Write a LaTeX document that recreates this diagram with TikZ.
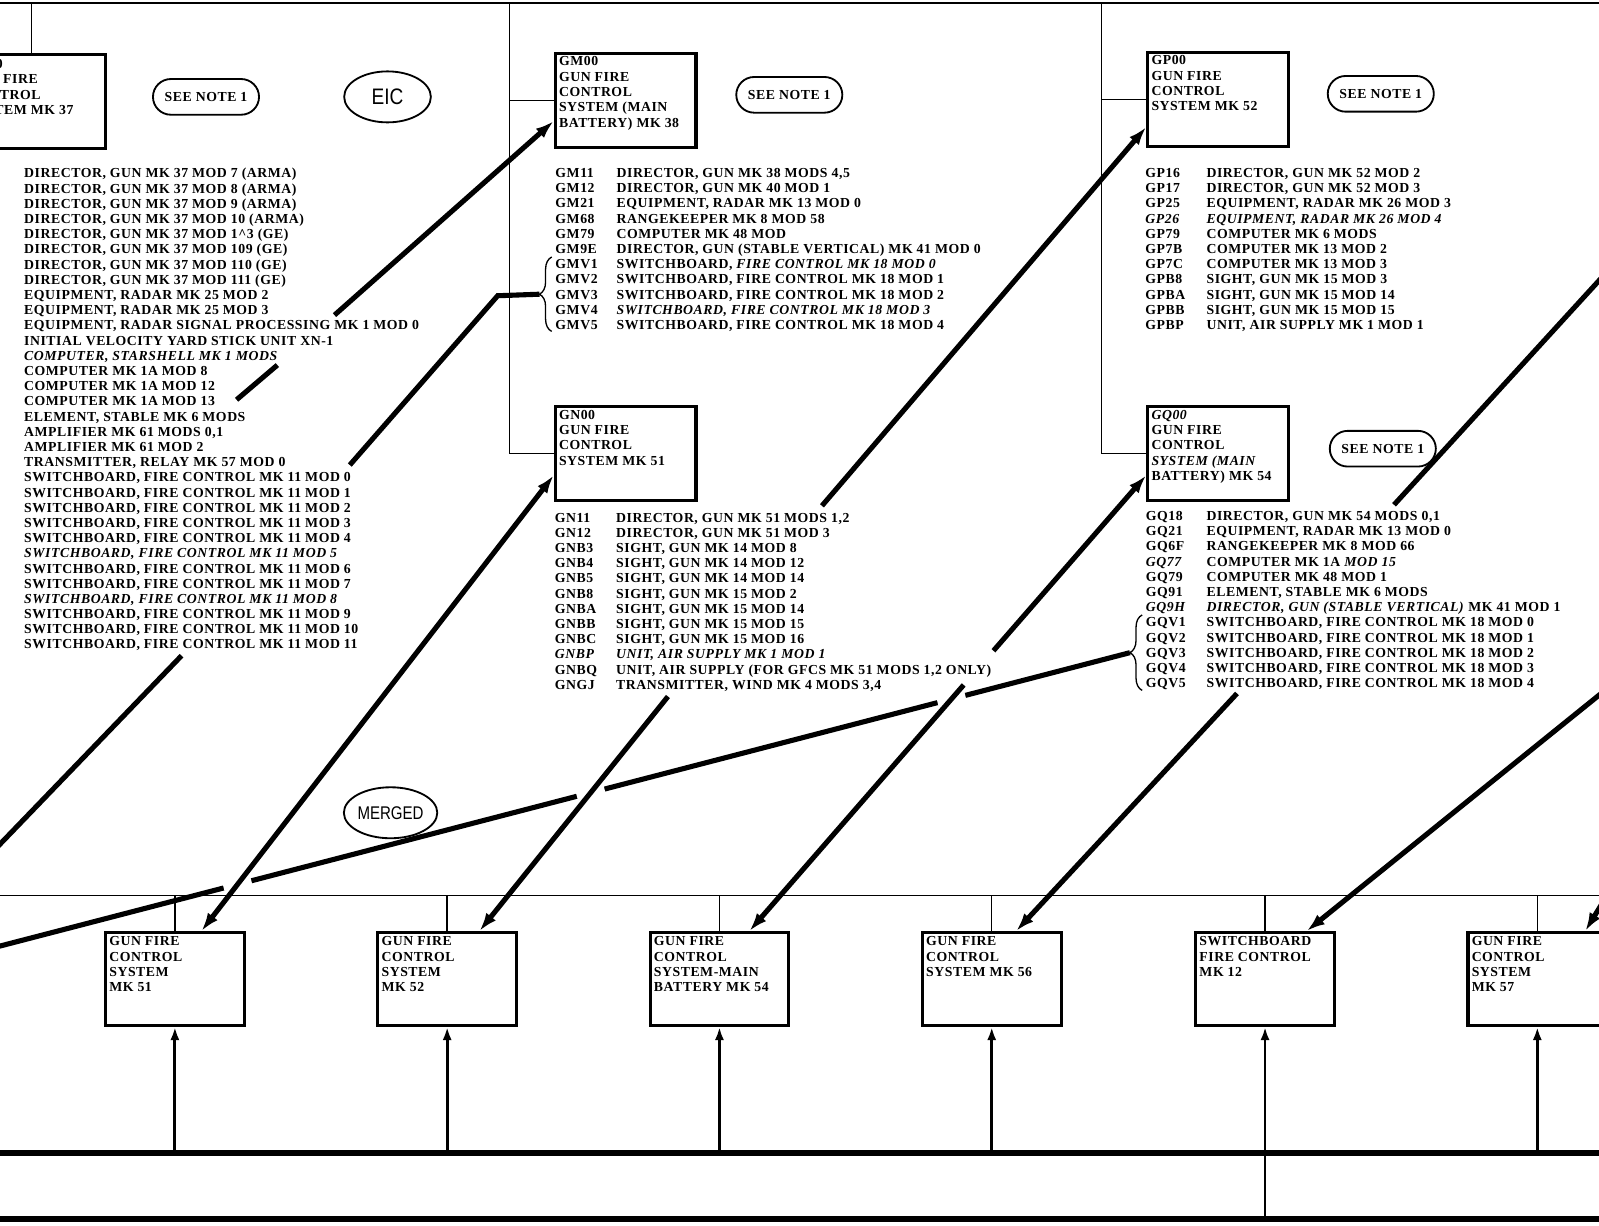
\documentclass[tikz,border=0pt]{standalone}
\usepackage{fontspec}
\usepackage{graphicx}
\setmainfont{Liberation Serif}[LetterSpace=4]
\setsansfont{Liberation Sans}
\usetikzlibrary{positioning,arrows.meta,shapes.misc,shapes.geometric,decorations.pathreplacing,calc,intersections}

\tikzset{
  txt/.style={inner sep=0pt, font=\bfseries\fontsize{13.5}{14.9}\selectfont},
  boxtxt/.style={inner sep=0pt, align=left, font=\bfseries\fontsize{13.5}{15}\selectfont},
  sysbox/.style={draw, line width=3pt, minimum width=138pt, minimum height=92pt, inner sep=0pt, anchor=north west},
  unitbox/.style={sysbox, minimum width=136pt, minimum height=91pt},
  notebox/.style={draw, rounded rectangle, line width=1.8pt, minimum width=104pt, minimum height=35pt, inner sep=0pt, font=\bfseries\fontsize{13.5}{15}\selectfont},
  tagoval/.style={draw, ellipse, line width=1.8pt, inner sep=0pt, minimum width=86pt, minimum height=50pt},
  thinlink/.style={line width=1.4pt},
  heavyline/.style={line width=5pt},
  feedarrow/.style={line width=5pt, -{Latex[length=18pt,width=12pt]}},
  backarrow/.style={line width=5pt, {Latex[length=18pt,width=12pt]}-},
  twoarrow/.style={line width=5pt, {Latex[length=18pt,width=12pt]}-{Latex[length=18pt,width=12pt]}},
  riser/.style={line width=2.8pt, -{Latex[length=13pt,width=9pt]}},
  groupbrace/.style={line width=1.3pt, decorate, decoration={brace, amplitude=12pt}},
}

\begin{document}
\begin{tikzpicture}[x=1pt, y=-1pt]
\useasboundingbox (0,0) rectangle (1568,1202);
\fill[white] (0,0) rectangle (1568,1202);
\clip (0,0) rectangle (1568,1202);

% upper systems
\node[sysbox] (gl00) at (-36,52) {};
\node[boxtxt, below right=6pt and 4pt of gl00.north west] (gl00txt) {GL00\\GUN FIRE\\CONTROL\\SYSTEM MK 37};
\node[sysbox] (gm00) at (543,51) {};
\node[boxtxt, below right=4.5pt and 5pt of gm00.north west] (gm00txt) {GM00\\GUN FIRE\\CONTROL\\SYSTEM (MAIN\\BATTERY) MK 38};
\node[sysbox] (gn00) at (543,397) {};
\node[boxtxt, below right=5pt and 5pt of gn00.north west] (gn00txt) {GN00\\GUN FIRE\\CONTROL\\SYSTEM MK 51};
\node[sysbox] (gp00) at (1124,50) {};
\node[boxtxt, below right=4.5pt and 5pt of gp00.north west] (gp00txt) {GP00\\GUN FIRE\\CONTROL\\SYSTEM MK 52};
\node[sysbox] (gq00) at (1124,397) {};
\node[boxtxt, below right=5pt and 5pt of gq00.north west] (gq00txt) {\textit{GQ00}\\GUN FIRE\\CONTROL\\\textit{SYSTEM (MAIN}\\BATTERY) MK 54};

% notes
\node[notebox] (note37) at (202,95) {SEE NOTE 1};
\node[notebox] (note38) at (774,93) {SEE NOTE 1};
\node[notebox] (note52) at (1354,92) {SEE NOTE 1};
\node[notebox] (note54) at (1356,440) {SEE NOTE 1};
\node[tagoval, minimum width=85pt] (eic) at (380,95) {\sffamily\fontsize{22}{24}\selectfont\scalebox{0.85}[1]{EIC}};
\node[tagoval] (merged) at (383,797) {\sffamily\fontsize{18}{20}\selectfont\scalebox{0.82}[1]{MERGED}};

% parts lists
\node[txt, anchor=base west] (gllist) at (23.5,174.5) {\begin{tabular}[t]{@{}l@{}}
DIRECTOR, GUN MK 37 MOD 7 (ARMA)\\
DIRECTOR, GUN MK 37 MOD 8 (ARMA)\\
DIRECTOR, GUN MK 37 MOD 9 (ARMA)\\
DIRECTOR, GUN MK 37 MOD 10 (ARMA)\\
DIRECTOR, GUN MK 37 MOD 1\textasciicircum 3 (GE)\\
DIRECTOR, GUN MK 37 MOD 109 (GE)\\
DIRECTOR, GUN MK 37 MOD 110 (GE)\\
DIRECTOR, GUN MK 37 MOD 111 (GE)\\
EQUIPMENT, RADAR MK 25 MOD 2\\
EQUIPMENT, RADAR MK 25 MOD 3\\
EQUIPMENT, RADAR SIGNAL PROCESSING MK 1 MOD 0\\
INITIAL VELOCITY YARD STICK UNIT XN-1\\
\itshape COMPUTER, STARSHELL MK 1 MODS\\
COMPUTER MK 1A MOD 8\\
COMPUTER MK 1A MOD 12\\
COMPUTER MK 1A MOD 13\\
ELEMENT, STABLE MK 6 MODS\\
AMPLIFIER MK 61 MODS 0,1\\
AMPLIFIER MK 61 MOD 2\\
TRANSMITTER, RELAY MK 57 MOD 0\\
SWITCHBOARD, FIRE CONTROL MK 11 MOD 0\\
SWITCHBOARD, FIRE CONTROL MK 11 MOD 1\\
SWITCHBOARD, FIRE CONTROL MK 11 MOD 2\\
SWITCHBOARD, FIRE CONTROL MK 11 MOD 3\\
SWITCHBOARD, FIRE CONTROL MK 11 MOD 4\\
\itshape SWITCHBOARD, FIRE CONTROL MK 11 MOD 5\\
SWITCHBOARD, FIRE CONTROL MK 11 MOD 6\\
SWITCHBOARD, FIRE CONTROL MK 11 MOD 7\\
\itshape SWITCHBOARD, FIRE CONTROL MK 11 MOD 8\\
SWITCHBOARD, FIRE CONTROL MK 11 MOD 9\\
SWITCHBOARD, FIRE CONTROL MK 11 MOD 10\\
SWITCHBOARD, FIRE CONTROL MK 11 MOD 11
\end{tabular}};

\node[txt, anchor=base west] (gmlist) at (544.5,174) {\begin{tabular}[t]{@{}p{60pt}@{}l@{}}
GM11 & DIRECTOR, GUN MK 38 MODS 4,5\\
GM12 & DIRECTOR, GUN MK 40 MOD 1\\
GM21 & EQUIPMENT, RADAR MK 13 MOD 0\\
GM68 & RANGEKEEPER MK 8 MOD 58\\
GM79 & COMPUTER MK 48 MOD\\
GM9E & DIRECTOR, GUN (STABLE VERTICAL) MK 41 MOD 0\\
GMV1 & SWITCHBOARD, \textit{FIRE CONTROL MK 18 MOD 0}\\
GMV2 & SWITCHBOARD, FIRE CONTROL MK 18 MOD 1\\
GMV3 & SWITCHBOARD, FIRE CONTROL MK 18 MOD 2\\
GMV4 & \itshape SWITCHBOARD, FIRE CONTROL MK 18 MOD 3\\
GMV5 & SWITCHBOARD, FIRE CONTROL MK 18 MOD 4
\end{tabular}};

\node[txt, anchor=base west] (gplist) at (1123,174) {\begin{tabular}[t]{@{}p{60pt}@{}l@{}}
GP16 & DIRECTOR, GUN MK 52 MOD 2\\
GP17 & DIRECTOR, GUN MK 52 MOD 3\\
GP25 & EQUIPMENT, RADAR MK 26 MOD 3\\
\itshape GP26 & \itshape EQUIPMENT, RADAR MK 26 MOD 4\\
GP79 & COMPUTER MK 6 MODS\\
GP7B & COMPUTER MK 13 MOD 2\\
GP7C & COMPUTER MK 13 MOD 3\\
GPB8 & SIGHT, GUN MK 15 MOD 3\\
GPBA & SIGHT, GUN MK 15 MOD 14\\
GPBB & SIGHT, GUN MK 15 MOD 15\\
GPBP & UNIT, AIR SUPPLY MK 1 MOD 1
\end{tabular}};

\node[txt, anchor=base west] (gnlist) at (544,512) {\begin{tabular}[t]{@{}p{60pt}@{}l@{}}
GN11 & DIRECTOR, GUN MK 51 MODS 1,2\\
GN12 & DIRECTOR, GUN MK 51 MOD 3\\
GNB3 & SIGHT, GUN MK 14 MOD 8\\
GNB4 & SIGHT, GUN MK 14 MOD 12\\
GNB5 & SIGHT, GUN MK 14 MOD 14\\
GNB8 & SIGHT, GUN MK 15 MOD 2\\
GNBA & SIGHT, GUN MK 15 MOD 14\\
GNBB & SIGHT, GUN MK 15 MOD 15\\
GNBC & SIGHT, GUN MK 15 MOD 16\\
\itshape GNBP & \itshape UNIT, AIR SUPPLY MK 1 MOD 1\\
GNBQ & UNIT, AIR SUPPLY (FOR GFCS MK 51 MODS 1,2 ONLY)\\
GNGJ & TRANSMITTER, WIND MK 4 MODS 3,4
\end{tabular}};

\node[txt, anchor=base west] (gqlist) at (1123.5,510.5) {\begin{tabular}[t]{@{}p{59.5pt}@{}l@{}}
GQ18 & DIRECTOR, GUN MK 54 MODS 0,1\\
GQ21 & EQUIPMENT, RADAR MK 13 MOD 0\\
GQ6F & RANGEKEEPER MK 8 MOD 66\\
\itshape GQ77 & COMPUTER MK 1A \textit{MOD 15}\\
GQ79 & COMPUTER MK 48 MOD 1\\
GQ91 & ELEMENT, STABLE MK 6 MODS\\
\itshape GQ9H & \textit{DIRECTOR, GUN (STABLE VERTICAL)} MK 41 MOD 1\\
GQV1 & SWITCHBOARD, FIRE CONTROL MK 18 MOD 0\\
GQV2 & SWITCHBOARD, FIRE CONTROL MK 18 MOD 1\\
GQV3 & SWITCHBOARD, FIRE CONTROL MK 18 MOD 2\\
GQV4 & SWITCHBOARD, FIRE CONTROL MK 18 MOD 3\\
GQV5 & SWITCHBOARD, FIRE CONTROL MK 18 MOD 4
\end{tabular}};

% braces round the switchboard groups
\draw[groupbrace] (541,325) -- (541,252);
\draw[groupbrace] (1120,677) -- (1120,603);
\coordinate (gmtip) at (529,288.5);
\coordinate (gqtip) at (1108,640);

% lower units
\node[unitbox] (b1) at (102,913) {};
\node[boxtxt, below right=5.5pt and 5pt of b1.north west] (b1txt) {GUN FIRE\\CONTROL\\SYSTEM\\MK 51};
\node[unitbox] (b2) at (369,913) {};
\node[boxtxt, below right=5.5pt and 5pt of b2.north west] (b2txt) {GUN FIRE\\CONTROL\\SYSTEM\\MK 52};
\node[unitbox] (b3) at (636,913) {};
\node[boxtxt, below right=5.5pt and 5pt of b3.north west] (b3txt) {GUN FIRE\\CONTROL\\SYSTEM-MAIN\\BATTERY MK 54};
\node[unitbox] (b4) at (903,913) {};
\node[boxtxt, below right=5.5pt and 5pt of b4.north west] (b4txt) {GUN FIRE\\CONTROL\\SYSTEM MK 56};
\node[unitbox] (b5) at (1171,913) {};
\node[boxtxt, below right=5.5pt and 5pt of b5.north west] (b5txt) {SWITCHBOARD\\FIRE CONTROL\\MK 12};
\node[unitbox] (b6) at (1438,913) {};
\node[boxtxt, below right=5.5pt and 5pt of b6.north west] (b6txt) {GUN FIRE\\CONTROL\\SYSTEM\\MK 57};

% free ends
\coordinate (mrgL) at (-5,929);
\coordinate (s37) at (328,309);
\coordinate (s13a) at (232,392);
\coordinate (s13b) at (272,358);
\coordinate (s57) at (343,456);
\coordinate (s57k) at (488,290);
\coordinate (s11a) at (178,643);
\coordinate (s11b) at (-5,833);
\coordinate (sgn11) at (806,496);
\coordinate (sgngj) at (655,683);
\coordinate (sgq18) at (1367,495);
\coordinate (edgeq) at (1580,262);
\coordinate (sgqv5) at (1213,680);
\coordinate (edge12) at (1580,672);
\coordinate (edge57) at (1582,868);

% merged line with hops
\path[name path=mrgpath] (mrgL) -- (gqtip);
\path[name path=crossA] (gn00.197) -- (b1.61);
\path[name path=crossB] (sgngj) -- (b2.56);
\path[name path=crossC] (gq00.197) -- (b3.58);
\path[name intersections={of=mrgpath and crossA, by=xa}];
\path[name intersections={of=mrgpath and crossB, by=xb}];
\path[name intersections={of=mrgpath and crossC, by=xc}];
\draw[heavyline] (mrgL) -- (gqtip);
\foreach \p in {xa,xb,xc}
  \draw[white, line width=9pt] ($(\p)!14pt!(mrgL)$) -- ($(\p)!14pt!(gqtip)$);

% frame lines
\draw[thinlink] (-5,3) -- (1575,3);
\draw[thinlink] ([xshift=-3.5pt]gl00.north) -- ([xshift=-3.5pt]gl00.north |- 0,3);
\draw[thinlink] (499.5,3) |- (gn00.west);
\draw[thinlink] (gm00.west -| 499.5,0) -- (gm00.west);
\draw[thinlink] (1080,3) |- (gq00.west);
\draw[thinlink] (gp00.west -| 1080,0) -- (gp00.west);
\draw[thinlink] (-5,878) -- (1575,878);
\foreach \b in {b1,b2,b3,b4,b5,b6}
  \draw[thinlink] (\b.north) -- (\b.north |- 0,878);

% heavy connectors
\draw[feedarrow] (s37) -- (gm00.196);
\draw[heavyline] (s13a) -- (s13b);
\draw[heavyline] (s57) -- (s57k) -- (gmtip);
\draw[heavyline] (s11a) -- (s11b);
\draw[twoarrow] (gn00.197) -- (b1.61);
\draw[feedarrow] (sgn11) -- (gp00.201);
\draw[feedarrow] (sgngj) -- (b2.56);
\draw[backarrow] (gq00.197) -- ($(gq00.197)!0.385!(b3.58)$);
\draw[feedarrow] ($(gq00.197)!0.46!(b3.58)$) -- (b3.58);
\draw[heavyline] (sgq18) -- (edgeq);
\draw[feedarrow] (sgqv5) -- (b4.63);
\draw[feedarrow] (edge12) -- (b5.49);
\draw[feedarrow] (edge57) -- (b6.45);

% bottom bus
\draw[line width=6pt] (-5,1131) -- (1575,1131);
\draw[line width=6pt] (-5,1195) -- (1575,1195);
\foreach \b in {b1,b2,b3,b4,b5,b6}
  \draw[riser] (\b.south |- 0,1131) -- (\b.south);
\draw[line width=2.8pt] (b5.south |- 0,1131) -- (b5.south |- 0,1195);

\end{tikzpicture}
\end{document}
